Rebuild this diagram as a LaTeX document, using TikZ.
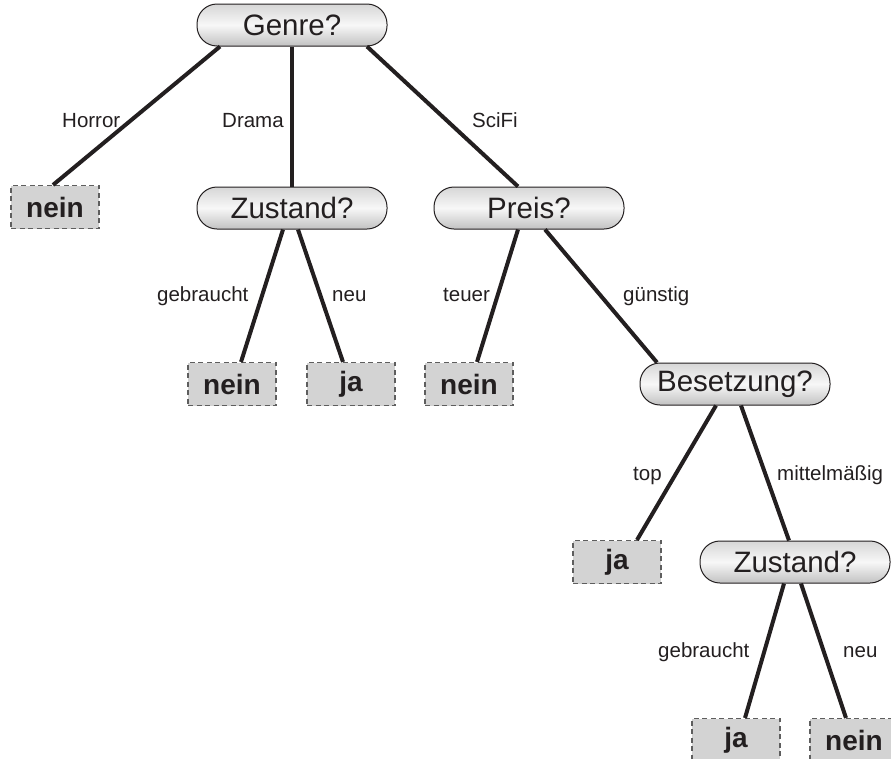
\documentclass[tikz,border=0pt]{standalone}
\usepackage{fontspec}
\setmainfont{Liberation Sans}
\usetikzlibrary{calc}
\definecolor{ink}{HTML}{231F20}
\definecolor{leaffill}{HTML}{D3D3D3}
\definecolor{leafline}{HTML}{5E5E5E}
\tikzset{
  question/.style={draw=ink, line width=1pt, rounded corners=20pt,
    top color=gray!32, bottom color=gray!48, middle color=gray!6,
    minimum width=190pt, minimum height=42pt, inner sep=0pt,
    text=ink, font=\fontsize{29.5}{33}\selectfont},
  leaf/.style={draw=leafline, fill=leaffill, dashed, dash pattern=on 5pt off 3.5pt,
    line width=1.1pt, minimum width=88pt, minimum height=43pt, inner sep=0pt,
    text=ink, font=\fontsize{28}{32}\selectfont\bfseries},
  branch/.style={draw=ink, line width=4pt},
  edgelabel/.style={anchor=base west, inner sep=0pt, text=ink,
    font=\fontsize{20.5}{24}\selectfont}
}
\begin{document}
\begin{tikzpicture}[x=1pt,y=-1pt]
\useasboundingbox (0,0) rectangle (891,758);

% decision nodes
\node[question] (genre) at (292,25) {Genre?};
\node[question] (zust1) at (292,208) {Zustand?};
\node[question] (preis) at (529,208) {Preis?};
\node[question] (bes) at (735,384) {Besetzung?};
\node[question] (zust2) at (795,562) {Zustand?};

% leaves
\node[leaf] (nein1) at (55,207) {nein};
\node[leaf] (nein2) at (232,384) {nein};
\node[leaf] (ja1) at (351,384) {ja};
\node[leaf] (nein3) at (469,384) {nein};
\node[leaf] (ja2) at (617,562) {ja};
\node[leaf] (ja3) at (736,740) {ja};
\node[leaf] (nein4) at (854,740) {nein};

% branches
\draw[branch] ($(genre.south)+(-72,0)$) -- ($(nein1.north)+(-2,0)$);
\draw[branch] (genre.south) -- (zust1.north);
\draw[branch] ($(genre.south)+(75,0)$) -- ($(preis.north)+(-11,0)$);
\draw[branch] ($(zust1.south)+(-9,0)$) -- ($(nein2.north)+(9,0)$);
\draw[branch] ($(zust1.south)+(6,0)$) -- ($(ja1.north)+(-8,0)$);
\draw[branch] ($(preis.south)+(-11,0)$) -- ($(nein3.north)+(8,0)$);
\draw[branch] ($(preis.south)+(16,0)$) -- ($(bes.north)+(-78,0)$);
\draw[branch] ($(bes.south)+(-19,0)$) -- ($(ja2.north)+(20,0)$);
\draw[branch] ($(bes.south)+(6,0)$) -- ($(zust2.north)+(-6,0)$);
\draw[branch] ($(zust2.south)+(-11,0)$) -- ($(ja3.north)+(9,0)$);
\draw[branch] ($(zust2.south)+(6,0)$) -- ($(nein4.north)+(-8,0)$);

% branch labels
\node[edgelabel] (lhorror) at (62,127) {Horror};
\node[edgelabel] (ldrama) at (222,127) {Drama};
\node[edgelabel] (lscifi) at (472,127) {SciFi};
\node[edgelabel] (lgebr1) at (157,301) {gebraucht};
\node[edgelabel] (lneu1) at (332,301) {neu};
\node[edgelabel] (lteuer) at (443,301) {teuer};
\node[edgelabel] (lguenstig) at (623,301) {günstig};
\node[edgelabel] (ltop) at (633,480) {top};
\node[edgelabel] (lmittel) at (777,480) {mittelmäßig};
\node[edgelabel] (lgebr2) at (658,657) {gebraucht};
\node[edgelabel] (lneu2) at (843,657) {neu};
\end{tikzpicture}
\end{document}
